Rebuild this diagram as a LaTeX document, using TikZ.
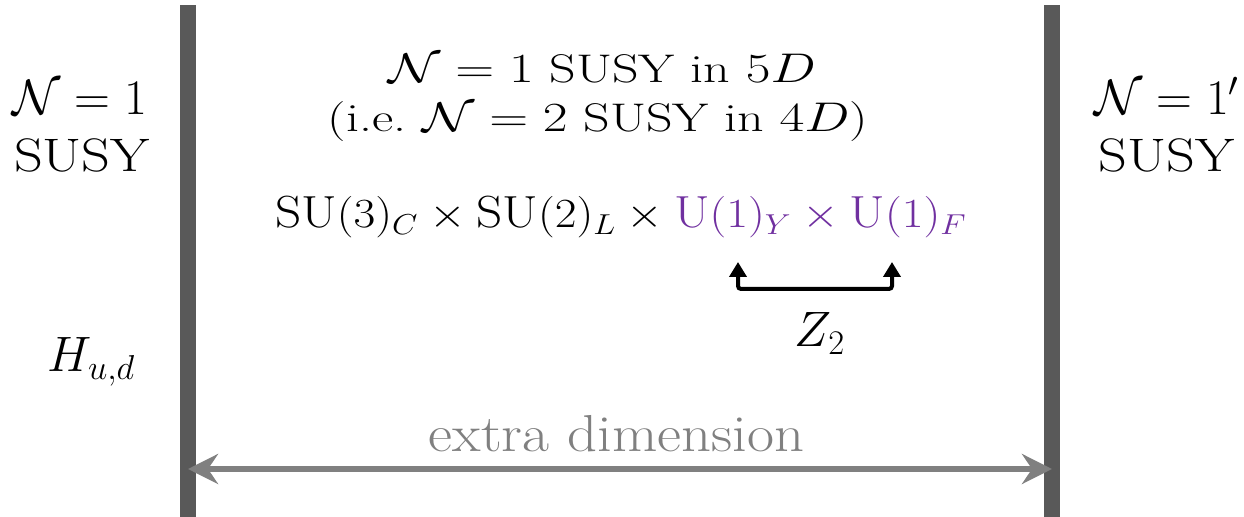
\documentclass[tikz,border=0pt]{standalone}
\usepackage{fontspec}
\usepackage{graphicx}
\usetikzlibrary{arrows.meta}
\definecolor{barc}{HTML}{595959}
\definecolor{dimc}{HTML}{808080}
\definecolor{purp}{HTML}{7030A0}
\newcommand{\myfs}[1]{\fontsize{#1}{#1}\selectfont}
\newcommand{\myxs}[2]{\scalebox{#1}[1]{#2}}
\begin{document}
\begin{tikzpicture}[x=0.5pt,y=-0.5pt,
  txt/.style={inner sep=0pt,anchor=base},
  barnode/.style={rectangle,fill=barc,inner sep=0pt,minimum width=8pt,minimum height=256pt},
  dimarrow/.style={draw=dimc,line width=2.8pt,{Stealth[length=15pt,width=15pt,inset=5pt]}-{Stealth[length=15pt,width=15pt,inset=5pt]}},
  brk/.style={draw=black,line width=2pt,rounded corners=1.5pt,{Triangle[length=7.5pt,width=8.5pt]}-{Triangle[length=7.5pt,width=8.5pt]}}]
\useasboundingbox (0,0) rectangle (1244,517);
\node[barnode,anchor=north] (lbar) at (188,5) {};
\node[barnode,anchor=north] (rbar) at (1052,5) {};
\node[txt,font=\myfs{23.5}] (lN) at (80,115) {$\mathcal{N}=1$};
\node[txt,font=\myfs{23.5}] (lS) at (82,172) {\myxs{1.2}{SUSY}};
\node[txt,font=\myfs{23.5}] (rN) at (1167,115) {$\mathcal{N}=1'$};
\node[txt,font=\myfs{23.5}] (rS) at (1166.5,172) {\myxs{1.2}{SUSY}};
\node[txt,font=\myfs{20}] (b1) at (602,83) {\myxs{1.3}{$\mathcal{N}=1$ SUSY in $5D$}};
\node[txt,font=\myfs{20}] (b2) at (598,132) {\myxs{1.3}{(i.e.\ $\mathcal{N}=2$ SUSY in $4D$)}};
\node[txt,font=\myfs{22.5}] (group) at (621,228) {\myxs{1.14}{$\mathrm{SU}(3)_C\times\mathrm{SU}(2)_L\times{\color{purp}\mathrm{U}(1)_Y\times\mathrm{U}(1)_F}$}};
\node[txt,font=\myfs{23.5}] (z2) at (820,347) {$Z_2$};
\node[txt,font=\myfs{23}] (higgs) at (91.5,372) {$H_{u,d}$};
\node[txt,font=\myfs{26},text=dimc] (extra) at (616.5,452) {\myxs{1.13}{extra dimension}};
\coordinate (zy) at (738,262);
\coordinate (zf) at (892,262);
\draw[brk] (zy) -- ++(0,27) -| (zf);
\draw[dimarrow] (lbar.center |- 0,469) -- (rbar.center |- 0,469);
\end{tikzpicture}
\end{document}
